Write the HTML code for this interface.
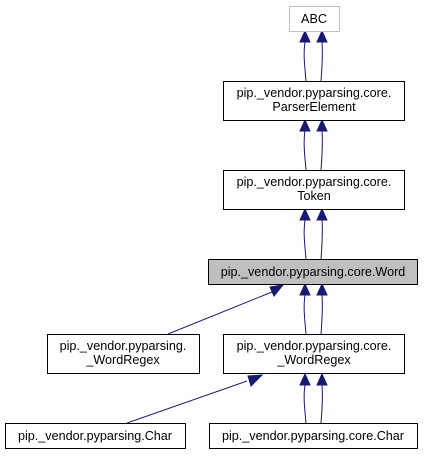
<!DOCTYPE html>
<html><head><style>
body{margin:0;background:#fff;}
svg text{font-family:"Liberation Sans",Arial,sans-serif;font-size:12.6px;text-anchor:middle;fill:#000;}
</style></head><body>
<svg width="425" height="455" viewBox="0 0 425 455" xmlns="http://www.w3.org/2000/svg">
<g fill="none" stroke="#191970" stroke-width="1">
<path d="M305,42 C303,55 305,68 306,81"/><path d="M322,42 C323,55 322,68 321,81"/>
<path d="M305,131 C303,144 305,157 306,170"/><path d="M322,131 C323,144 322,157 321,170"/>
<path d="M305,220 C303,233 305,246 306,259"/><path d="M322,220 C323,233 322,246 321,259"/>
<path d="M305,295 C303,308 305,321 306,334"/><path d="M322,295 C323,308 322,321 321,334"/>
<path d="M305,385 C303,398 305,411 306,423"/><path d="M322,385 C323,398 322,411 321,423"/>
<path d="M272,292 L168,334"/>
<path d="M247,381 L127,423"/>
</g>
<g fill="#191970" stroke="#191970">
<polygon points="305,31 300,42 310,42"/><polygon points="322,31 317,42 327,42"/>
<polygon points="305,120 300,131 310,131"/><polygon points="322,120 317,131 327,131"/>
<polygon points="305,209 300,220 310,220"/><polygon points="322,209 317,220 327,220"/>
<polygon points="305,284 300,295 310,295"/><polygon points="322,284 317,295 327,295"/>
<polygon points="305,374 300,385 310,385"/><polygon points="322,374 317,385 327,385"/>
<polygon points="283,285 270,287 274,296"/>
<polygon points="262,375 248,376 251,386"/>
</g>
<rect x="289.5" y="6.5" width="50" height="25" fill="#fff" stroke="#bfbfbf"/>
<text x="314" y="23">ABC</text>
<rect x="223.5" y="81.5" width="181" height="39" fill="#fff" stroke="#000"/>
<text x="314" y="97">pip._vendor.pyparsing.core.</text><text x="314" y="111">ParserElement</text>
<rect x="223.5" y="170.5" width="181" height="39" fill="#fff" stroke="#000"/>
<text x="314" y="186">pip._vendor.pyparsing.core.</text><text x="314" y="200">Token</text>
<rect x="208.5" y="259.5" width="209" height="25" fill="#bfbfbf" stroke="#000"/>
<text x="313" y="276">pip._vendor.pyparsing.core.Word</text>
<rect x="47.5" y="334.5" width="152" height="39" fill="#fff" stroke="#000"/>
<text x="123" y="350">pip._vendor.pyparsing.</text><text x="123" y="364">_WordRegex</text>
<rect x="223.5" y="334.5" width="181" height="39" fill="#fff" stroke="#000"/>
<text x="314" y="350">pip._vendor.pyparsing.core.</text><text x="314" y="364">_WordRegex</text>
<rect x="5.5" y="423.5" width="180" height="25" fill="#fff" stroke="#000"/>
<text x="95" y="440">pip._vendor.pyparsing.Char</text>
<rect x="209.5" y="423.5" width="208" height="25" fill="#fff" stroke="#000"/>
<text x="313" y="440">pip._vendor.pyparsing.core.Char</text>
</svg>
</body></html>
